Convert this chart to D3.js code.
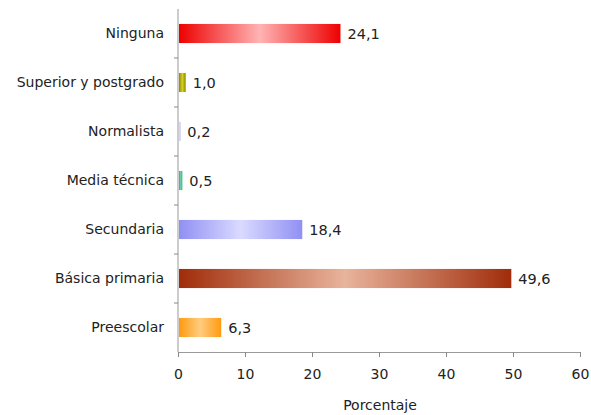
<!DOCTYPE html>
<html>
<head>
<meta charset="utf-8">
<script src="https://cdn.jsdelivr.net/npm/d3@7"></script>
<style>
  body { margin: 0; background: #fff; }
  svg { display: block; }
  text { font-family: "DejaVu Sans", Verdana, sans-serif; fill: #222; }
</style>
</head>
<body>
<svg id="chart" width="591" height="415"></svg>
<script>
// Nivel educativo (porcentaje)
const categories = ["Ninguna", "Superior y postgrado", "Normalista", "Media técnica", "Secundaria", "Básica primaria", "Preescolar"];
const values = [24.1, 1.0, 0.2, 0.5, 18.4, 49.6, 6.3];
const valueLabels = ["24,1", "1,0", "0,2", "0,5", "18,4", "49,6", "6,3"];
// gradient stops per bar: [edge colour, centre colour]
const barColors = [
  ["#ee0000", "#ffb4b4"],
  ["#8a8a00", "#d8d020"],
  ["#b8b8f0", "#e0e0ff"],
  ["#30b080", "#70d0b0"],
  ["#9090f4", "#dadaff"],
  ["#a02c0a", "#e8b49c"],
  ["#ff9a10", "#ffcc80"]
];
const xTicks = [0, 10, 20, 30, 40, 50, 60];
const xTitle = "Porcentaje";

const svg = d3.select("#chart");
const x = d3.scaleLinear().domain([0, 60]).range([178, 580]);
const y = d3.scaleBand().domain(categories).range([9, 352]).paddingInner(0.61).paddingOuter(0.305);
const yb = d3.scaleBand().domain(categories).range([9, 352]);

const defs = svg.append("defs");
barColors.forEach((c, i) => {
  const g = defs.append("linearGradient").attr("id", "g" + i)
    .attr("x1", "0").attr("x2", "1").attr("y1", "0").attr("y2", "0");
  g.append("stop").attr("offset", "0%").attr("stop-color", c[0]);
  g.append("stop").attr("offset", "50%").attr("stop-color", c[1]);
  g.append("stop").attr("offset", "100%").attr("stop-color", c[0]);
});

// bars
svg.append("g").selectAll("rect").data(values).join("rect")
  .attr("x", x(0) + 1)
  .attr("y", (d, i) => y(categories[i]))
  .attr("width", d => Math.max(1.5, x(d) - x(0)))
  .attr("height", y.bandwidth())
  .attr("fill", (d, i) => "url(#g" + i + ")");

// value labels
svg.append("g").selectAll("text").data(values).join("text")
  .attr("x", d => x(d) + 8)
  .attr("y", (d, i) => y(categories[i]) + y.bandwidth() / 2)
  .attr("dy", "0.35em")
  .attr("font-size", 14.5)
  .text((d, i) => valueLabels[i]);

// y axis
const yAxis = svg.append("g").attr("transform", `translate(${x(0)},0)`);
yAxis.append("line").attr("x1", 0).attr("x2", 0).attr("y1", 9).attr("y2", 352)
  .attr("stroke", "#999");
yAxis.selectAll(".tk").data(categories.slice(1)).join("line")
  .attr("x1", -4).attr("x2", 0)
  .attr("y1", d => yb(d)).attr("y2", d => yb(d))
  .attr("stroke", "#888");
yAxis.selectAll("text").data(categories).join("text")
  .attr("x", -14)
  .attr("y", d => y(d) + y.bandwidth() / 2)
  .attr("dy", "0.35em")
  .attr("text-anchor", "end")
  .attr("font-size", 14)
  .text(d => d);

// x axis
const xAxis = svg.append("g").attr("transform", "translate(0,352)")
  .call(d3.axisBottom(x).tickValues(xTicks).tickSize(5).tickPadding(12).tickFormat(d3.format("d")));
xAxis.select(".domain").attr("stroke", "#999");
xAxis.selectAll(".tick line").attr("stroke", "#888");
xAxis.selectAll(".tick text").attr("font-size", 14).attr("fill", "#222")
  .attr("font-family", "'DejaVu Sans', Verdana, sans-serif");

svg.append("text").attr("x", 380).attr("y", 410).attr("text-anchor", "middle")
  .attr("font-size", 14).text(xTitle);
</script>
</body>
</html>
